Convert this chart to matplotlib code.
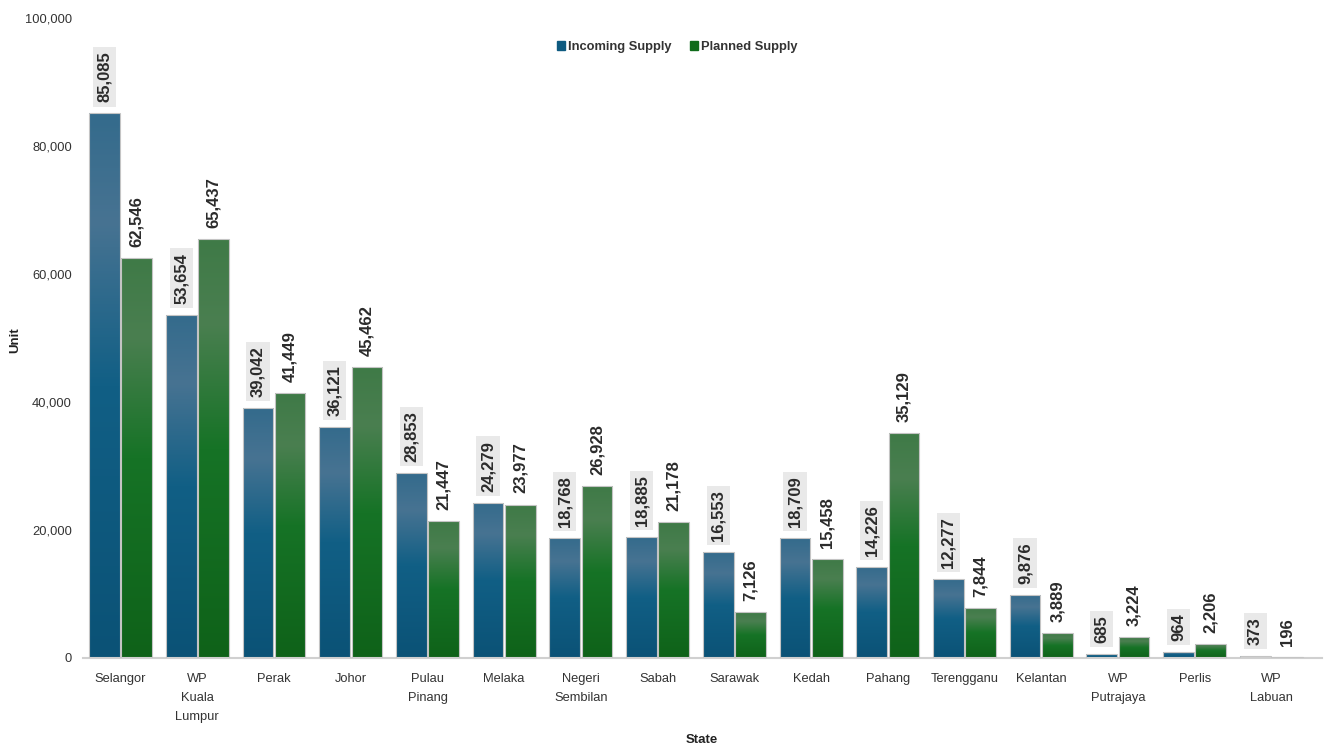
import matplotlib.pyplot as plt
import matplotlib.colors as mcolors
from matplotlib.patches import Patch
import numpy as np

states = ["Selangor", "WP\nKuala\nLumpur", "Perak", "Johor", "Pulau\nPinang", "Melaka",
          "Negeri\nSembilan", "Sabah", "Sarawak", "Kedah", "Pahang", "Terengganu",
          "Kelantan", "WP\nPutrajaya", "Perlis", "WP\nLabuan"]
incoming = [85085, 53654, 39042, 36121, 28853, 24279, 18768, 18885, 16553, 18709,
            14226, 12277, 9876, 685, 964, 373]
planned = [62546, 65437, 41449, 45462, 21447, 23977, 26928, 21178, 7126, 15458,
           35129, 7844, 3889, 3224, 2206, 196]

plt.rcParams['font.family'] = ['Liberation Sans', 'DejaVu Sans']

# top -> lighter band -> base -> bottom
blue_stops = ["#346b8c", "#477392", "#115f85", "#0b5276"]
green_stops = ["#3f7a47", "#4a7f50", "#167326", "#0f6219"]

fig = plt.figure(figsize=(13.3, 7.51), dpi=100)
ax = fig.add_axes([83 / 1330, 1 - 658 / 751, (1322 - 83) / 1330, 640 / 751])

x = np.arange(len(states))
w = 0.40
off = 0.21


def gradient_bars(bars, stops):
    cmap = mcolors.LinearSegmentedColormap.from_list(
        "g", list(zip([0.0, 0.2, 0.5, 1.0], stops)))
    grad = np.linspace(0, 1, 256).reshape(-1, 1)
    for b in bars:
        x0, w0, h = b.get_x(), b.get_width(), b.get_height()
        im = ax.imshow(grad, cmap=cmap, extent=[x0, x0 + w0, 0, h],
                       aspect='auto', origin='upper', zorder=2)
        im.set_clip_path(b)


b1 = ax.bar(x - off, incoming, w, color=blue_stops[2], linewidth=0, zorder=2)
b2 = ax.bar(x + off, planned, w, color=green_stops[2], linewidth=0, zorder=2)
gradient_bars(b1, blue_stops)
gradient_bars(b2, green_stops)
for b in list(b1) + list(b2):
    ax.add_patch(plt.Rectangle((b.get_x(), 0), b.get_width(), b.get_height(),
                               fill=False, edgecolor="#c4c4c4", linewidth=0.8, zorder=3))

for xi, v in zip(x, incoming):
    ax.annotate(f"{v:,}", (xi - off, v), xytext=(0, 8), textcoords="offset points",
                ha="center", va="bottom", rotation=90, fontsize=12,
                fontweight="bold", color="#2b2b2b",
                bbox=dict(boxstyle="square,pad=0.25", fc="#e9e9e9", ec="none"))
for xi, v in zip(x, planned):
    ax.annotate(f"{v:,}", (xi + off, v), xytext=(0, 8), textcoords="offset points",
                ha="center", va="bottom", rotation=90, fontsize=12,
                fontweight="bold", color="#2b2b2b")

ax.set_xlim(-0.49, 15.66)
ax.set_ylim(0, 100000)
ax.set_yticks(np.arange(0, 100001, 20000))
ax.set_yticklabels([f"{t:,}" for t in range(0, 100001, 20000)])
ax.set_xticks(x)
ax.set_xticklabels(states, linespacing=1.75)
ax.tick_params(axis="both", length=0, labelsize=9.3, colors="#333333")
ax.tick_params(axis="y", pad=8)
ax.tick_params(axis="x", pad=11)
for s in ["top", "right", "left"]:
    ax.spines[s].set_visible(False)
ax.spines["bottom"].set_color("#d0d0d0")
ax.spines["bottom"].set_linewidth(1.5)

fig.text(15 / 1330, 1 - 340 / 751, "Unit", rotation=90, ha="center", va="center",
         fontsize=9.5, fontweight="bold", color="#222222")
fig.text(702 / 1330, 1 - 740 / 751, "State", ha="center", va="center",
         fontsize=9.5, fontweight="bold", color="#222222")

handles = [Patch(color="#0e5a80", label="Incoming Supply"),
           Patch(color="#0f6b1a", label="Planned Supply")]
fig.legend(handles=handles, loc="center", bbox_to_anchor=(677 / 1330, 1 - 47 / 751),
           ncol=2, frameon=False, handlelength=0.65, handleheight=0.65,
           handletextpad=0.2, columnspacing=1.4,
           prop=dict(weight="bold", size=9.3))
for t in fig.legends[0].get_texts():
    t.set_color("#333333")

fig.savefig("out.png", dpi=100)
